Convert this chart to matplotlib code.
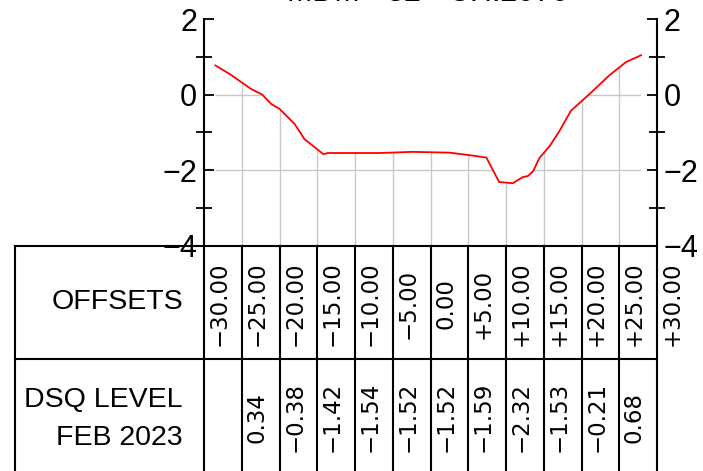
import numpy as np
import matplotlib.pyplot as plt

plt.rcParams['font.family'] = ['Liberation Sans', 'DejaVu Sans']
wide = ['DejaVu Sans']

# ground profile
offsets = [-28.5, -26.5, -23.8, -22.3, -21.1, -20.0, -18.0, -16.7, -14.2, -13.6,
           -6.8, -2.4, 2.5, 4.9, 7.4, 9.1, 10.9, 12.2, 12.9, 13.6, 14.4, 15.8,
           17.1, 18.6, 21.1, 23.7, 25.9, 27.9]
levels = [0.77, 0.53, 0.15, 0.0, -0.25, -0.38, -0.78, -1.18, -1.58, -1.55,
          -1.55, -1.52, -1.54, -1.60, -1.67, -2.32, -2.35, -2.19, -2.16, -2.03,
          -1.69, -1.36, -0.96, -0.43, 0.02, 0.51, 0.86, 1.04]

# table rows
stations = [-30, -25, -20, -15, -10, -5, 0, 5, 10, 15, 20, 25, 30]
station_labels = ['\u221230.00', '\u221225.00', '\u221220.00', '\u221215.00', '\u221210.00',
                  '\u22125.00', '0.00', '+5.00', '+10.00', '+15.00', '+20.00',
                  '+25.00', '+30.00']
dsq_levels = ['', '0.34', '\u22120.38', '\u22121.42', '\u22121.54', '\u22121.52',
              '\u22121.52', '\u22121.59', '\u22122.32', '\u22121.53', '\u22120.21',
              '0.68', '']

title = 'MDM - 32 - CH.2070'

W, H = 703, 471
fig = plt.figure(figsize=(W / 100, H / 100), dpi=100)
ax = fig.add_axes([204 / W, (H - 472) / H, 453 / W, 453 / H])
ax.set_xlim(-30, 30)
ax.set_ylim(-10, 2)

# ground line
ax.plot(offsets, levels, color='red', lw=1.3, zorder=4)

# grid only below the ground line
area = ax.fill_between(offsets, levels, -4, color='none', lw=0)
clip = area.get_paths()[0]
for s in stations[1:-1]:
    gl, = ax.plot([s, s], [2, -4], color='#c8c8c8', lw=1, zorder=1)
    gl.set_clip_path(clip, ax.transData)
for yv in [0, -2]:
    gl, = ax.plot([-30, 30], [yv, yv], color='#c8c8c8', lw=1, zorder=1)
    gl.set_clip_path(clip, ax.transData)

# axes
for sp in ['top', 'bottom']:
    ax.spines[sp].set_visible(False)
for sp in ['left', 'right']:
    ax.spines[sp].set_bounds(-4, 2)
    ax.spines[sp].set_linewidth(1.5)
ax.set_xticks([])
ax.set_yticks([-4, -2, 0, 2])
ax.set_yticks([-3, -1, 1], minor=True)
ax.tick_params(axis='y', which='major', direction='in', length=7, width=1.3,
               left=True, right=True, labelleft=True, labelright=True,
               labelsize=22, pad=5)
ax.tick_params(axis='y', which='minor', direction='inout', length=11, width=1.3,
               left=True, right=True)

# table
x_left = -55.0
lk = dict(color='black', lw=1.5, zorder=5, clip_on=False)
ax.plot([x_left, 30], [-4, -4], **lk)
ax.plot([x_left, 30], [-7, -7], **lk)
ax.plot([x_left, x_left], [-4, -10.2], **lk)
for s in stations:
    ax.plot([s, s], [-4, -10.2], **lk)

for s, lab in zip(stations, station_labels):
    ax.text(s + 2.0, -5.55, lab, rotation=90, ha='center', va='center',
            fontsize=16.5, family=wide, zorder=6)
for s, lab in zip(stations, dsq_levels):
    if lab:
        ax.text(s + 2.0, -8.55, lab, rotation=90, ha='center', va='center',
                fontsize=16.5, family=wide, zorder=6)

ax.text(-32.8, -5.5, 'OFFSETS', ha='right', va='center', fontsize=20.5, zorder=6)
ax.text(-32.8, -8.08, 'DSQ LEVEL', ha='right', va='center', fontsize=20.5, zorder=6)
ax.text(-32.8, -9.09, 'FEB 2023', ha='right', va='center', fontsize=20.5, zorder=6)

# title sits mostly above the top edge, as in the source drawing
fig.text(0.608, 1 - 1.0 / H, title, ha='center', va='baseline', fontsize=22)

fig.savefig('out.png', dpi=100)
